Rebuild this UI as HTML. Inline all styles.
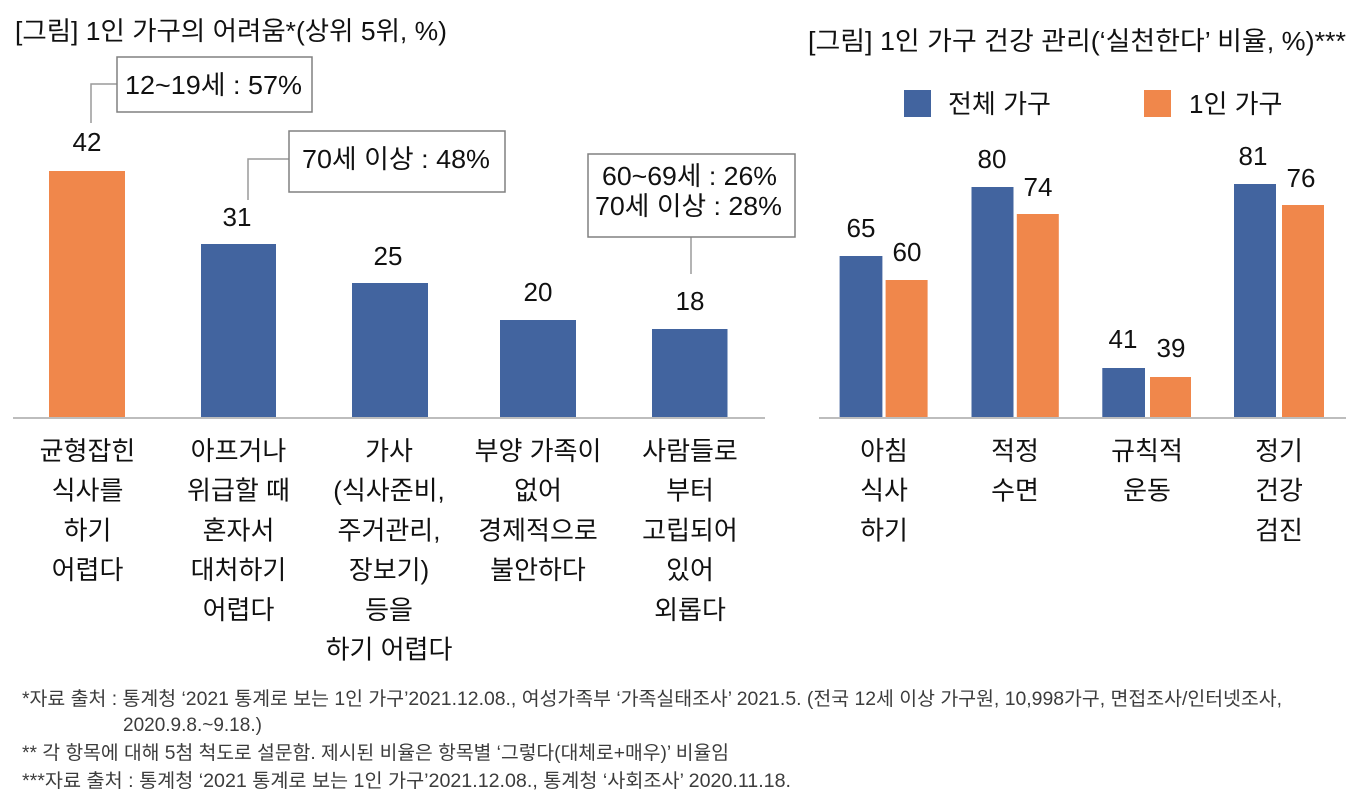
<!DOCTYPE html>
<html>
<head>
<meta charset="utf-8">
<style>
  html, body { margin:0; padding:0; background:#ffffff; }
  body { width:1364px; height:812px; overflow:hidden; }
  svg { display:block; }
  text { font-family: "Liberation Sans", "Noto Sans CJK KR", sans-serif; fill:#111; }
  .v { font-size:26px; text-anchor:middle; }
  .c { font-size:26px; text-anchor:middle; }
  .fn { font-size:19px; fill:#3c3c3c; }
</style>
</head>
<body>
<svg width="1364" height="812" viewBox="0 0 1364 812" xmlns="http://www.w3.org/2000/svg">
  <!-- ===== LEFT CHART ===== -->
  <text x="15" y="40" font-size="26" textLength="432" lengthAdjust="spacingAndGlyphs">[그림] 1인 가구의 어려움*(상위 5위, %)</text>

  <!-- bars -->
  <rect x="49" y="171" width="76" height="247" fill="#F0874B"/>
  <rect x="201" y="244" width="75" height="174" fill="#42649F"/>
  <rect x="352" y="283" width="76" height="135" fill="#42649F"/>
  <rect x="500" y="320" width="76" height="98" fill="#42649F"/>
  <rect x="652" y="329" width="75.5" height="89" fill="#42649F"/>
  <line x1="13" y1="418" x2="765" y2="418" stroke="#bdbdbd" stroke-width="2"/>

  <!-- value labels -->
  <text class="v" x="87" y="151">42</text>
  <text class="v" x="237" y="226">31</text>
  <text class="v" x="388" y="265">25</text>
  <text class="v" x="538" y="301">20</text>
  <text class="v" x="690" y="310">18</text>

  <!-- callouts -->
  <polyline points="117,84 91,84 91,123" fill="none" stroke="#9a9a9a" stroke-width="1.5"/>
  <rect x="117" y="57" width="195" height="55" fill="#fff" stroke="#808080" stroke-width="1.5"/>
  <text x="125" y="94" font-size="26" textLength="177" lengthAdjust="spacingAndGlyphs">12~19세 : 57%</text>

  <polyline points="289,159 248,159 248,200" fill="none" stroke="#9a9a9a" stroke-width="1.5"/>
  <rect x="289" y="131" width="216" height="61" fill="#fff" stroke="#808080" stroke-width="1.5"/>
  <text x="302" y="168" font-size="26" textLength="188" lengthAdjust="spacingAndGlyphs">70세 이상 : 48%</text>

  <line x1="691" y1="237" x2="691" y2="274" stroke="#9a9a9a" stroke-width="1.5"/>
  <rect x="588" y="154" width="207" height="83" fill="#fff" stroke="#808080" stroke-width="1.5"/>
  <text x="602" y="185" font-size="26" textLength="175" lengthAdjust="spacingAndGlyphs">60~69세 : 26%</text>
  <text x="595" y="215" font-size="26" textLength="187" lengthAdjust="spacingAndGlyphs">70세 이상 : 28%</text>

  <!-- category labels -->
  <text class="c" x="87.5" y="460">균형잡힌<tspan x="87.5" dy="39.7">식사를</tspan><tspan x="87.5" dy="39.7">하기</tspan><tspan x="87.5" dy="39.7">어렵다</tspan></text>
  <text class="c" x="238.5" y="460">아프거나<tspan x="238.5" dy="39.7">위급할 때</tspan><tspan x="238.5" dy="39.7">혼자서</tspan><tspan x="238.5" dy="39.7">대처하기</tspan><tspan x="238.5" dy="39.7">어렵다</tspan></text>
  <text class="c" x="389" y="460">가사<tspan x="389" dy="39.7">(식사준비,</tspan><tspan x="389" dy="39.7">주거관리,</tspan><tspan x="389" dy="39.7">장보기)</tspan><tspan x="389" dy="39.7">등을</tspan><tspan x="389" dy="39.7">하기 어렵다</tspan></text>
  <text class="c" x="538" y="460">부양 가족이<tspan x="538" dy="39.7">없어</tspan><tspan x="538" dy="39.7">경제적으로</tspan><tspan x="538" dy="39.7">불안하다</tspan></text>
  <text class="c" x="690" y="460">사람들로<tspan x="690" dy="39.7">부터</tspan><tspan x="690" dy="39.7">고립되어</tspan><tspan x="690" dy="39.7">있어</tspan><tspan x="690" dy="39.7">외롭다</tspan></text>

  <!-- ===== RIGHT CHART ===== -->
  <text x="808" y="50" font-size="26" textLength="538" lengthAdjust="spacingAndGlyphs">[그림] 1인 가구 건강 관리(‘실천한다’ 비율, %)***</text>

  <!-- legend -->
  <rect x="904" y="90" width="27" height="27" fill="#42649F"/>
  <text x="948" y="113" font-size="26">전체 가구</text>
  <rect x="1144" y="90" width="27" height="27" fill="#F0874B"/>
  <text x="1189" y="113" font-size="26">1인 가구</text>

  <!-- bars -->
  <rect x="839.6" y="256" width="42.8" height="162" fill="#42649F"/>
  <rect x="885.6" y="280" width="42" height="138" fill="#F0874B"/>
  <rect x="971.5" y="187" width="42" height="231" fill="#42649F"/>
  <rect x="1016.8" y="214" width="42" height="204" fill="#F0874B"/>
  <rect x="1102.3" y="368" width="42.7" height="50" fill="#42649F"/>
  <rect x="1150" y="377" width="41" height="41" fill="#F0874B"/>
  <rect x="1234" y="184" width="42" height="234" fill="#42649F"/>
  <rect x="1282" y="205" width="42" height="213" fill="#F0874B"/>
  <line x1="819" y1="418" x2="1346" y2="418" stroke="#bdbdbd" stroke-width="2"/>

  <!-- values -->
  <text class="v" x="861" y="237">65</text>
  <text class="v" x="907" y="261">60</text>
  <text class="v" x="992" y="168">80</text>
  <text class="v" x="1038" y="196">74</text>
  <text class="v" x="1123" y="348">41</text>
  <text class="v" x="1171" y="357">39</text>
  <text class="v" x="1253" y="165">81</text>
  <text class="v" x="1301" y="187">76</text>

  <!-- categories -->
  <text class="c" x="884" y="460">아침<tspan x="884" dy="39.7">식사</tspan><tspan x="884" dy="39.7">하기</tspan></text>
  <text class="c" x="1015" y="460">적정<tspan x="1015" dy="39.7">수면</tspan></text>
  <text class="c" x="1147" y="460">규칙적<tspan x="1147" dy="39.7">운동</tspan></text>
  <text class="c" x="1279" y="460">정기<tspan x="1279" dy="39.7">건강</tspan><tspan x="1279" dy="39.7">검진</tspan></text>

  <!-- ===== FOOTNOTES ===== -->
  <text class="fn" x="22" y="705" textLength="1260" lengthAdjust="spacingAndGlyphs">*자료 출처 : 통계청 ‘2021 통계로 보는 1인 가구’2021.12.08., 여성가족부 ‘가족실태조사’ 2021.5. (전국 12세 이상 가구원, 10,998가구, 면접조사/인터넷조사,</text>
  <text class="fn" x="123" y="731">2020.9.8.~9.18.)</text>
  <text class="fn" x="22" y="759" textLength="707" lengthAdjust="spacingAndGlyphs">** 각 항목에 대해 5첨 척도로 설문함. 제시된 비율은 항목별 ‘그렇다(대체로+매우)’ 비율임</text>
  <text class="fn" x="22" y="787" textLength="769" lengthAdjust="spacingAndGlyphs">***자료 출처 : 통계청 ‘2021 통계로 보는 1인 가구’2021.12.08., 통계청 ‘사회조사’ 2020.11.18.</text>
</svg>
</body>
</html>
